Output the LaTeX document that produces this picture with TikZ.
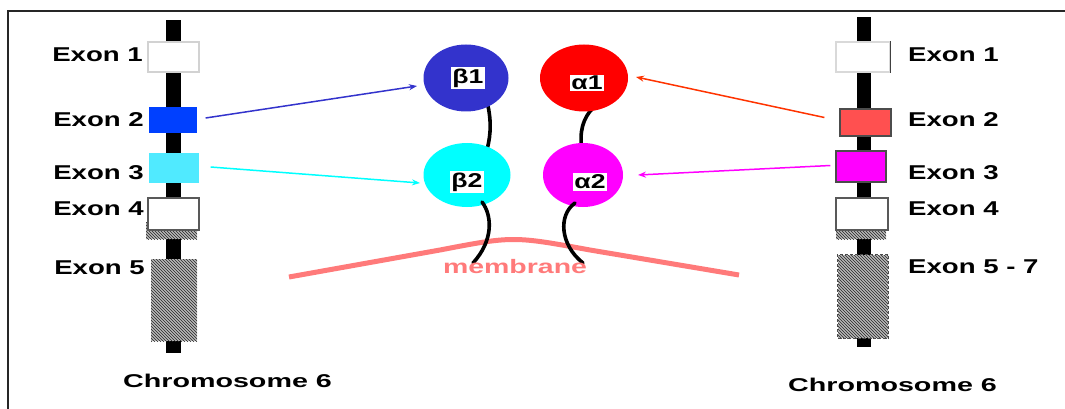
\documentclass[tikz,border=0pt]{standalone}
\usepackage{fontspec}
\setmainfont{Liberation Sans}
\usetikzlibrary{shapes.geometric,arrows.meta,patterns,calc}
\definecolor{cbeta1}{HTML}{3333CC}
\definecolor{calpha1}{HTML}{FF0000}
\definecolor{cbeta2}{HTML}{00FFFF}
\definecolor{calpha2}{HTML}{FF00FF}
\definecolor{cex2}{HTML}{0040FF}
\definecolor{cex3}{HTML}{50EAFF}
\definecolor{crex2}{HTML}{FF5050}
\definecolor{crex3}{HTML}{FF00FF}
\definecolor{cred}{HTML}{FF3300}
\definecolor{cmem}{HTML}{FF7A7A}
\newcommand{\wide}[2]{\scalebox{#1}[1]{#2}}
\pgfdeclarelayer{back}
\pgfsetlayers{back,main}
\tikzset{
  exonlab/.style={font=\fontsize{20}{24}\selectfont\bfseries, inner sep=0pt},
  chromlab/.style={font=\fontsize{18.5}{22}\selectfont\bfseries, inner sep=0pt},
  exbox/.style={rectangle, inner sep=0pt, line width=1.2pt},
  hatch/.style={fill=gray!55, postaction={pattern=north west lines, pattern color=black!85}},
  sub/.style={ellipse, inner sep=0pt, draw=none},
  glab/.style={fill=white, inner sep=1.5pt, font=\fontsize{20}{22}\selectfont\bfseries},
  arr/.style={line width=1.5pt, -{Stealth[length=8pt,width=6pt]}},
  link/.style={line width=3.6pt, line cap=round, black},
  bar/.style={fill=black, draw=none}
}
\begin{document}
\begin{tikzpicture}[x=1pt,y=-1pt]
\useasboundingbox (0,0) rectangle (1065,409);
% frame
\draw[line width=1.5pt, black!85] (8,409) -- (8,11) -- (1065,11);

% ---------- left chromosome ----------
\fill[bar] (166,20) rectangle (181,353);
\fill[hatch] (146,222) rectangle (197,239);
\node[exbox, draw=gray!35, fill=white, minimum width=51pt, minimum height=30pt] (ex1) at (173.5,57) {};
\node[exbox, fill=cex2, minimum width=48pt, minimum height=26pt] (ex2) at (173,120) {};
\node[exbox, fill=cex3, minimum width=50pt, minimum height=30pt] (ex3) at (174,168) {};
\node[exbox, draw=black!65, fill=white, minimum width=51pt, minimum height=32pt] (ex4) at (173.5,214) {};
\node[exbox, hatch, minimum width=46pt, minimum height=82pt] (ex5) at (174,300) {};

\node[exonlab, anchor=east] (l1) at (143,55) {\wide{1.38}{Exon 1}};
\node[exonlab, anchor=east] (l2) at (144,120) {\wide{1.38}{Exon 2}};
\node[exonlab, anchor=east] (l3) at (144,173) {\wide{1.38}{Exon 3}};
\node[exonlab, anchor=east] (l4) at (144,209) {\wide{1.38}{Exon 4}};
\node[exonlab, anchor=east] (l5) at (145,268) {\wide{1.38}{Exon 5}};
\node[chromlab] (c1) at (227.5,381) {\wide{1.55}{Chromosome 6}};

% ---------- right chromosome ----------
\fill[bar] (857,17) rectangle (871,347);
\fill[hatch] (836,222) rectangle (886,239);
\node[exbox, draw=gray!30, fill=white, minimum width=54pt, minimum height=30pt] (rex1) at (863,57) {};
\draw[line width=1.5pt, black!75] (rex1.north east) -- (rex1.south east);
\node[exbox, draw=black!70, fill=crex2, minimum width=51pt, minimum height=27pt] (rex2) at (865.5,122.5) {};
\node[exbox, draw=black!70, fill=crex3, minimum width=50pt, minimum height=31pt] (rex3) at (861,166.5) {};
\node[exbox, draw=black!65, fill=white, minimum width=52pt, minimum height=32pt] (rex4) at (862,214) {};
\node[exbox, hatch, minimum width=50pt, minimum height=83pt] (rex5) at (863,296.5) {};
\draw[line width=1.2pt, black!70, densely dashed] (rex5.north west) rectangle (rex5.south east);

\node[exonlab, anchor=west] (r1) at (908,55) {\wide{1.38}{Exon 1}};
\node[exonlab, anchor=west] (r2) at (908,120) {\wide{1.38}{Exon 2}};
\node[exonlab, anchor=west] (r3) at (908,173) {\wide{1.38}{Exon 3}};
\node[exonlab, anchor=west] (r4) at (908,209) {\wide{1.38}{Exon 4}};
\node[exonlab, anchor=west] (r5) at (908,267) {\wide{1.38}{Exon 5 - 7}};
\node[chromlab] (c2) at (892.5,385) {\wide{1.55}{Chromosome 6}};

% ---------- subunits ----------
\node[sub, fill=cbeta1, minimum width=85pt, minimum height=67pt] (b1) at (466,78) {};
\node[sub, fill=calpha1, minimum width=88pt, minimum height=67pt] (a1) at (584,78) {};
\node[sub, fill=cbeta2, minimum width=87pt, minimum height=64pt] (b2) at (467,175) {};
\node[sub, fill=calpha2, minimum width=80pt, minimum height=64pt] (a2) at (583,175) {};

\node[glab] (b1t) at (468,78) {\wide{1.33}{β1}};
\node[glab] (a1t) at (587,83) {\wide{1.33}{α1}};
\node[glab] (b2t) at (467,182) {\wide{1.33}{β2}};
\node[glab] (a2t) at (590,182) {\wide{1.33}{α2}};

% membrane
\coordinate (mL) at (289,277);
\coordinate (mR) at (739,275);
\draw[cmem, line width=5pt] (mL) -- (440,250) .. controls (513,236) .. (590,250) -- (mR);

% tethers
\begin{pgfonlayer}{back}
\draw[link] ($(b1.center)+(22,28)$) .. controls (492,125) and (490,140) .. ($(b2.center)+(19,-22)$);
\draw[link] ($(a1.center)+(9,30)$) .. controls (583,118) and (579,132) .. ($(a2.center)+(-1,-25)$);
\end{pgfonlayer}
\draw[link] ($(b2.center)+(15,27)$) .. controls (492,215) and (494,240) .. (473,263);
\draw[link] ($(a2.center)+(-8,28)$) .. controls (558,215) and (560,245) .. (583,263);
\node[font=\fontsize{19.5}{22}\selectfont\bfseries, text=cmem, inner sep=0pt] (mem) at (515,267) {\wide{1.46}{membrane}};

% ---------- arrows ----------
\draw[arr, cbeta1] ($(ex2.east)+(8,-2)$) -- ($(b1.center)+(-49,8)$);
\draw[arr, cbeta2] ($(ex3.east)+(11,-1)$) -- ($(b2.center)+(-47,8)$);
\draw[arr, cred] ($(rex2.west)+(-15,-5)$) -- ($(a1.center)+(52,-1)$);
\draw[arr, calpha2] ($(rex3.west)+(-5,-1)$) -- ($(a2.center)+(55,0)$);
\end{tikzpicture}
\end{document}
